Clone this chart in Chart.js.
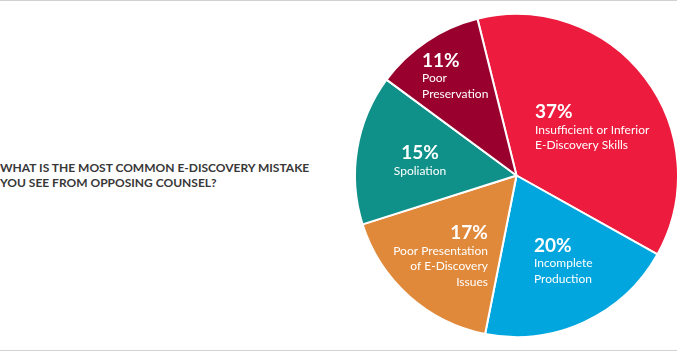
<!DOCTYPE html>
<html>
<head>
<meta charset="utf-8">
<script src="https://cdn.jsdelivr.net/npm/chart.js@4/dist/chart.umd.min.js"></script>
<style>
    html, body { margin: 0; padding: 0; background: #fff; }
    .frame {
        position: relative;
        width: 679px;
        height: 352px;
        overflow: hidden;
    }
    .rule { position: absolute; left: 0; width: 677px; height: 1px; background: #d2d2d2; }
    .rule.top { top: 0; }
    .rule.bottom { top: 350px; }
    .title {
        position: absolute;
        left: 0;
        top: 160px;
        font-family: 'Lato', sans-serif;
        font-weight: 700;
        font-size: 12px;
        line-height: 15px;
        color: #383838;
        white-space: nowrap;
    }
    #mistakeChart { position: absolute; left: 0; top: 0; }
</style>
</head>
<body>
<div class="frame">
    <div class="rule top"></div>
    <div class="title">WHAT IS THE MOST COMMON E-DISCOVERY MISTAKE<br>YOU SEE FROM OPPOSING COUNSEL?</div>
    <canvas id="mistakeChart" width="679" height="352"></canvas>
    <div class="rule bottom"></div>
</div>
<script>
const categories = [
    ['Insufficient or Inferior', 'E-Discovery Skills'],
    ['Incomplete', 'Production'],
    ['Poor Presentation', 'of E-Discovery', 'Issues'],
    ['Spoliation'],
    ['Poor', 'Preservation']
];
const shares = [37, 20, 17, 15, 11];
const sliceColors = ['#ed1b3d', '#00a6dd', '#e0893a', '#0f9189', '#9a002e'];

// where each label block sits: angle from 12 o'clock (deg), fraction of radius, text alignment
const labelAngles = [21.5, 168.6, 199.3, 278, -43.8];
const labelRadius = [0.316, 0.552, 0.54, 0.609, 0.853];
const labelAlign = ['left', 'left', 'right', 'center', 'left'];

const sliceLabels = {
    id: 'sliceLabels',
    afterDatasetsDraw(chart) {
        const ctx = chart.ctx;
        const arcs = chart.getDatasetMeta(0).data;
        ctx.save();
        ctx.fillStyle = '#ffffff';
        ctx.textBaseline = 'middle';
        arcs.forEach((arc, i) => {
            const p = arc.getProps(['x', 'y', 'outerRadius'], true);
            const a = labelAngles[i] * Math.PI / 180;
            const r = 160 * labelRadius[i];
            const x = p.x + Math.sin(a) * r;
            const yMid = p.y - Math.cos(a) * r;
            const lines = categories[i];
            const blockH = 18 + lines.length * 15.5;
            let y = yMid - blockH / 2 + 8;
            ctx.textAlign = labelAlign[i];
            ctx.font = 'bold 19px Lato, sans-serif';
            ctx.fillText(shares[i] + '%', x, y);
            y += 18;
            ctx.font = '12px Lato, sans-serif';
            lines.forEach(line => {
                ctx.fillText(line, x, y);
                y += 15.5;
            });
        });
        ctx.restore();
    }
};

function createMistakeChart() {
    const ctx = document.getElementById('mistakeChart');
    if (!ctx) return;

    new Chart(ctx, {
        type: 'pie',
        data: {
            labels: categories.map(c => c.join(' ')),
            datasets: [{
                data: shares,
                backgroundColor: sliceColors,
                borderColor: '#ffffff',
                borderWidth: 2
            }]
        },
        options: {
            responsive: false,
            animation: false,
            rotation: -14,
            layout: { padding: { left: 354, right: 0, top: 13, bottom: 14 } },
            plugins: {
                legend: { display: false },
                tooltip: { enabled: false }
            }
        },
        plugins: [sliceLabels]
    });
}

document.addEventListener('DOMContentLoaded', () => {
    createMistakeChart();
});
</script>
</body>
</html>
